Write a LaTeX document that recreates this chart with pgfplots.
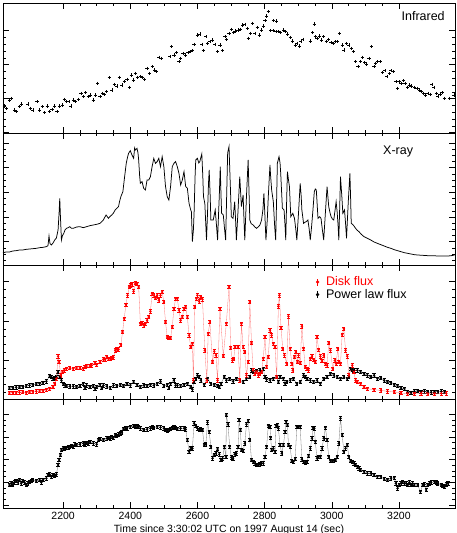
\documentclass[border=0pt]{standalone}
\usepackage{fontspec}
\setmainfont{Liberation Sans}
\usepackage{pgfplots}
\pgfplotsset{compat=1.18}

% data in rough pixel-height units (no y scale shown)
\pgfplotstableread{
x y
2018 85
2025 80
2032 73
2040 98
2047 103
2055 68
2062 63
2070 78
2076 86
2095 86
2102 73
2110 68
2122 93
2130 68
2138 78
2145 60
2153 80
2160 63
2167 70
2175 80
2182 63
2190 80
2197 83
2203 100
2210 93
2217 93
2223 80
2230 98
2237 93
2245 100
2253 118
2260 108
2267 120
2275 108
2282 113
2290 98
2297 113
2303 148
2310 108
2317 118
2323 115
2330 123
2337 165
2345 128
2352 145
2360 140
2367 166
2375 143
2382 153
2390 160
2397 136
2403 173
2410 158
2415 178
2422 166
2430 168
2437 166
2443 160
2450 193
2457 178
2465 198
2472 188
2478 183
2485 226
2492 223
2518 228
2523 258
2530 233
2537 240
2545 213
2550 223
2557 238
2565 233
2572 240
2578 243
2585 246
2590 265
2600 293
2607 296
2613 265
2617 246
2625 288
2630 268
2637 273
2645 278
2652 265
2660 243
2667 263
2675 246
2682 288
2686 280
2694 298
2701 310
2708 301
2714 305
2721 308
2728 310
2734 323
2741 325
2748 313
2751 283
2758 298
2764 328
2771 298
2778 316
2784 293
2791 308
2796 320
2801 336
2806 350
2811 363
2818 306
2826 336
2836 335
2826 306
2834 303
2841 303
2848 300
2856 308
2861 303
2869 296
2876 286
2883 275
2891 263
2896 268
2904 260
2908 273
2914 280
2936 275
2943 300
2948 326
2951 288
2956 283
2964 290
2969 278
2976 288
2984 273
2991 280
2998 270
3004 268
3011 273
3016 273
3023 298
3031 263
3036 248
3043 268
3051 263
3058 253
3064 243
3071 213
3078 198
3086 213
3091 226
3098 210
3104 206
3111 223
3118 258
3126 198
3131 208
3136 213
3144 213
3151 180
3158 186
3164 168
3171 178
3176 186
3183 183
3191 153
3196 133
3201 153
3206 148
3213 156
3218 148
3226 136
3231 143
3238 140
3246 136
3254 133
3261 128
3266 123
3273 118
3279 113
3286 118
3293 115
3298 145
3304 136
3311 118
3316 110
3323 116
3329 120
3336 103
3351 103
3364 113
}\infrared

\pgfplotstableread{
x y
2015 29
2022 31
2030 33
2040 33
2050 36
2060 37
2070 39
2080 39
2090 41
2100 42
2110 43
2120 44
2130 46
2140 47
2150 49
2155 52
2158 81
2161 58
2165 54
2170 60
2175 69
2180 75
2185 99
2188 150
2190 194
2192 140
2195 69
2198 82
2202 89
2206 100
2210 104
2215 106
2220 109
2225 104
2230 104
2240 108
2250 109
2260 106
2270 109
2280 112
2290 114
2300 116
2310 119
2315 124
2320 129
2324 137
2328 144
2335 134
2340 140
2345 144
2350 150
2355 159
2360 164
2365 169
2368 184
2372 199
2378 214
2382 249
2388 299
2392 318
2395 329
2400 337
2405 324
2410 314
2413 345
2415 339
2420 344
2423 330
2425 309
2428 260
2430 239
2435 244
2440 224
2445 219
2450 249
2455 249
2460 259
2465 289
2470 314
2475 299
2480 304
2485 314
2490 289
2495 319
2500 289
2505 229
2510 199
2515 189
2520 229
2525 289
2530 299
2535 304
2540 289
2545 269
2550 234
2555 249
2560 274
2565 229
2570 224
2575 179
2580 159
2582 154
2585 64
2588 100
2590 149
2593 260
2595 309
2600 314
2604 300
2607 304
2613 327
2616 260
2618 199
2622 179
2627 69
2630 149
2633 240
2635 279
2638 200
2640 129
2647 129
2653 159
2657 110
2660 69
2663 150
2665 199
2668 289
2670 210
2672 149
2677 144
2681 100
2684 69
2687 200
2690 330
2694 349
2698 230
2701 139
2706 134
2711 184
2714 120
2716 69
2720 140
2726 259
2731 169
2736 204
2739 120
2741 69
2746 200
2751 309
2754 200
2756 129
2760 118
2766 114
2771 108
2776 104
2781 108
2786 114
2791 129
2795 160
2798 209
2801 140
2804 69
2808 130
2811 199
2816 294
2818 260
2821 219
2826 184
2830 110
2833 69
2836 200
2838 299
2843 319
2846 300
2848 269
2853 164
2858 159
2861 110
2863 69
2866 200
2868 274
2871 250
2874 229
2878 139
2884 149
2889 134
2893 100
2896 69
2901 150
2906 239
2909 200
2911 159
2916 119
2920 122
2924 124
2929 129
2933 100
2936 69
2940 110
2944 159
2948 214
2951 222
2954 219
2959 134
2964 139
2968 134
2972 100
2976 69
2981 150
2986 229
2991 169
2995 150
2998 139
3002 132
3006 129
3010 160
3013 184
3016 154
3019 110
3021 69
3024 180
3026 259
3030 200
3033 149
3038 159
3041 120
3044 74
3049 180
3054 269
3056 200
3058 119
3064 114
3071 104
3076 98
3081 94
3088 86
3096 79
3106 74
3116 69
3126 63
3136 59
3146 55
3156 51
3166 47
3176 44
3186 40
3196 37
3206 34
3216 31
3226 29
3236 27
3246 25
3256 24
3271 23
3286 22
3301 22
3316 21
3331 21
3346 21
3356 22
3366 24
}\xray

\pgfplotstableread{
x y
2040 15
2050 16
2060 15
2070 17
2080 18
2090 16
2100 18
2110 19
2120 20
2130 21
2140 22
2150 25
2160 28
2170 33
2175 43
2180 58
2185 125
2188 108
2193 68
2198 78
2203 83
2210 88
2220 90
2230 88
2240 90
2250 90
2260 88
2265 93
2270 96
2280 96
2285 98
2295 105
2300 100
2310 108
2320 116
2325 115
2330 123
2335 118
2340 118
2345 120
2350 122
2355 143
2360 146
2365 146
2372 160
2377 198
2382 238
2387 280
2392 308
2397 333
2400 338
2405 341
2410 320
2415 345
2420 343
2425 333
2430 223
2435 225
2440 218
2445 223
2450 233
2455 243
2460 260
2465 313
2470 308
2475 300
2480 308
2485 293
2490 308
2495 318
2500 288
2505 228
2510 183
2515 180
2520 180
2525 213
2530 268
2535 298
2540 298
2545 263
2550 233
2555 243
2560 268
2565 273
2570 243
2575 188
2580 153
2585 163
2588 53
2592 273
2597 298
2600 308
2605 290
2610 303
2615 296
2622 143
2628 53
2632 193
2637 228
2645 108
2650 140
2655 128
2660 53
2667 268
2677 126
2686 223
2694 333
2699 150
2704 113
2708 118
2712 153
2721 153
2726 53
2731 223
2736 153
2741 138
2746 68
2751 108
2756 288
2761 165
2766 83
2771 73
2776 78
2781 68
2786 73
2791 78
2796 118
2801 183
2806 93
2811 123
2816 203
2821 188
2826 163
2831 153
2836 63
2841 275
2844 308
2849 210
2854 148
2859 128
2866 103
2871 245
2876 148
2881 103
2884 83
2889 123
2893 138
2898 108
2901 128
2906 105
2911 215
2916 148
2921 93
2926 88
2931 83
2936 118
2941 125
2946 115
2951 108
2956 183
2961 145
2966 125
2971 111
2976 128
2981 103
2986 98
2991 165
2996 143
3003 88
3009 113
3013 103
3018 148
3021 108
3026 103
3031 190
3036 208
3041 143
3046 125
3051 68
3061 98
3066 78
3071 53
3076 48
3086 43
3096 33
3106 28
3126 25
3146 23
3166 20
3186 18
3206 15
3226 13
3246 13
3266 14
3286 13
3306 13
3326 14
3341 14
}\disk

\pgfplotstableread{
x y
2040 30
2050 31
2060 32
2070 33
2080 34
2090 36
2100 38
2110 40
2120 42
2130 43
2140 46
2150 50
2160 66
2165 63
2170 58
2175 60
2180 63
2185 78
2190 63
2195 53
2200 43
2205 38
2210 36
2220 35
2230 35
2240 33
2250 36
2260 43
2265 30
2270 38
2280 33
2290 36
2295 28
2300 33
2310 40
2315 30
2320 38
2330 35
2340 30
2350 38
2360 36
2370 40
2380 36
2390 43
2400 38
2410 48
2420 40
2430 33
2440 38
2450 36
2460 40
2470 38
2480 43
2490 50
2500 36
2510 40
2515 30
2520 43
2530 53
2535 38
2540 38
2550 36
2560 40
2570 43
2580 33
2585 26
2590 48
2595 58
2600 68
2605 63
2610 53
2620 40
2630 58
2640 43
2650 40
2660 36
2665 33
2670 43
2680 63
2686 53
2696 58
2706 50
2716 58
2726 53
2736 48
2746 58
2756 63
2761 83
2766 78
2776 80
2786 83
2791 78
2796 88
2801 63
2806 56
2816 53
2826 58
2836 63
2841 48
2846 63
2856 58
2861 43
2866 48
2876 53
2886 58
2896 43
2906 48
2916 68
2921 63
2926 58
2936 53
2946 48
2956 53
2966 43
2976 58
2986 63
2996 73
3006 68
3016 63
3026 58
3036 63
3046 58
3051 63
3056 88
3061 86
3066 83
3076 83
3086 78
3096 73
3106 68
3116 63
3126 68
3136 58
3146 60
3156 53
3166 48
3176 46
3186 40
3196 36
3206 30
3216 28
3226 18
3236 16
3246 20
3256 21
3266 18
3276 20
3286 18
3296 17
3306 18
3316 19
3326 20
3336 18
}\powerlaw

\pgfplotstableread{
x y
2040 70
2045 75
2050 72
2055 78
2060 82
2065 78
2070 85
2075 75
2080 82
2085 78
2090 70
2095 75
2100 80
2105 82
2110 85
2120 82
2130 85
2135 78
2140 85
2150 90
2155 100
2160 102
2165 95
2170 100
2175 98
2180 102
2185 130
2188 145
2192 160
2195 175
2200 180
2205 178
2210 182
2215 183
2220 185
2225 188
2230 185
2235 192
2240 190
2250 192
2260 195
2265 192
2270 197
2275 195
2280 200
2290 195
2300 192
2305 205
2310 208
2320 205
2330 210
2335 212
2340 210
2345 215
2350 212
2355 220
2360 218
2365 222
2370 225
2375 228
2380 238
2385 242
2390 240
2400 245
2410 247
2415 245
2420 248
2425 245
2430 240
2440 235
2450 237
2460 240
2465 244
2470 242
2480 245
2490 243
2500 240
2505 235
2510 232
2515 235
2520 238
2525 242
2530 245
2535 242
2540 238
2550 240
2560 240
2565 237
2570 205
2575 170
2580 182
2585 180
2590 255
2595 248
2600 240
2605 235
2610 238
2615 235
2620 190
2625 192
2630 258
2635 230
2640 185
2645 150
2650 160
2655 165
2660 178
2665 162
2670 145
2675 150
2680 185
2685 155
2686 280
2691 252
2696 185
2701 153
2706 150
2711 162
2716 165
2721 185
2724 265
2728 235
2731 175
2736 172
2741 195
2746 252
2751 262
2756 205
2761 145
2766 140
2771 135
2776 130
2781 130
2786 132
2791 135
2796 135
2801 155
2806 185
2811 248
2816 245
2818 212
2821 175
2826 180
2831 170
2834 248
2838 250
2841 240
2846 190
2851 165
2856 190
2861 230
2864 260
2868 250
2871 190
2876 185
2881 142
2886 140
2891 148
2896 245
2901 245
2906 245
2911 147
2916 140
2921 138
2926 140
2931 157
2936 180
2941 210
2944 242
2948 240
2951 200
2956 150
2961 155
2966 155
2971 180
2976 210
2981 242
2986 205
2991 155
2996 143
3001 142
3006 143
3011 145
3016 155
3021 195
3026 270
3031 220
3036 170
3041 180
3046 190
3051 155
3056 142
3061 140
3066 135
3071 130
3076 125
3081 120
3086 115
3096 110
3106 105
3116 105
3126 100
3136 95
3146 95
3156 88
3166 85
3176 90
3186 92
3191 75
3196 60
3201 70
3206 75
3211 80
3216 75
3221 75
3226 70
3231 78
3236 70
3241 75
3246 70
3256 70
3264 50
3271 70
3276 72
3281 55
3286 70
3291 75
3296 78
3306 80
3311 78
3316 75
3326 70
3331 68
3336 65
3341 72
3346 75
}\lowpanel

\pgfplotsset{
  panel/.style={
    scale only axis, width=452pt,
    xmin=2021, xmax=3367,
    xtick={2200,2400,...,3200}, minor x tick num=3,
    xticklabels={}, yticklabels={},
    minor y tick num=4,
    major tick length=6pt, minor tick length=3pt,
    tick style={black, line width=0.5pt},
    axis line style={line width=0.6pt},
    clip=true,
  },
  errs/.style={error bars/.cd, y dir=both, y fixed=5,
    error mark options={rotate=90, mark size=1.6pt, line width=0.4pt}},
}

\begin{document}
\begin{tikzpicture}[x=1pt,y=1pt]
\begin{axis}[panel, at={(3pt,-3pt)}, anchor=north west, height=130.3pt,
  ymin=-2, ymax=389, ytick={0,102,204,306}]
\addplot[only marks, mark=+, mark size=1.6pt, mark options={line width=0.55pt}] table {\infrared};
\node[anchor=north east, font=\fontsize{12.5}{14}\selectfont] at (rel axis cs:0.985,0.965) {Infrared};
\end{axis}

\begin{axis}[panel, at={(3pt,-133.3pt)}, anchor=north west, height=131.7pt,
  ymin=-6, ymax=389, ytick={-10,64,138,212,286,360}, minor y tick num=3]
\addplot[black, line width=0.75pt] table {\xray};
\node[anchor=north east, font=\fontsize{12.5}{14}\selectfont] at (rel axis cs:0.915,0.93) {X-ray};
\end{axis}

\begin{axis}[panel, at={(3pt,-265pt)}, anchor=north west, height=134pt,
  ymin=-3, ymax=399, ytick={-5,113,231,349},
  legend style={at={(0.68,0.94)}, anchor=north west, draw=none, fill=none,
    font=\fontsize{12.5}{14}\selectfont, row sep=-1pt,
    nodes={inner sep=1.5pt}},
  legend cell align=left]
\addplot[forget plot, black!55, line width=0.3pt, mark=*, mark size=1.1pt,
  mark options={black}, errs, error bar style={black}] table {\powerlaw};
\addplot[forget plot, red!55, line width=0.3pt, mark=*, mark size=1.1pt,
  mark options={red}, errs, error bar style={red}] table {\disk};
\addlegendimage{red, legend image code/.code={
  \path[draw=none] (-4pt,0pt) (7pt,0pt);
  \draw[red, line width=0.5pt] (0pt,-3.5pt) -- (0pt,3.5pt);
  \fill[red] (0pt,0pt) circle (1.5pt);}}
\addlegendentry{\textcolor{red}{Disk flux}}
\addlegendimage{black, legend image code/.code={
  \path[draw=none] (-4pt,0pt) (7pt,0pt);
  \draw[black, line width=0.5pt] (0pt,-3.5pt) -- (0pt,3.5pt);
  \fill[black] (0pt,0pt) circle (1.5pt);}}
\addlegendentry{Power law flux}
\end{axis}

\begin{axis}[panel, at={(3pt,-399pt)}, anchor=north west, height=109pt,
  ymin=1, ymax=328, ytick={10,78,146,214,282}, minor y tick num=3,
  xticklabels={2200,2400,2600,2800,3000,3200},
  xticklabel style={font=\fontsize{10.5}{12}\selectfont, yshift=-1pt},
  xlabel={Time since 3:30:02 UTC on 1997 August 14 (sec)},
  xlabel style={font=\fontsize{10.5}{12}\selectfont, yshift=2pt}]
\addplot[black!55, line width=0.3pt, mark=*, mark size=1.1pt,
  mark options={black}, errs, error bar style={black}] table {\lowpanel};
\end{axis}

\pgfresetboundingbox
\path[use as bounding box] (0pt,0pt) rectangle (457pt,-533pt);
\end{tikzpicture}
\end{document}
